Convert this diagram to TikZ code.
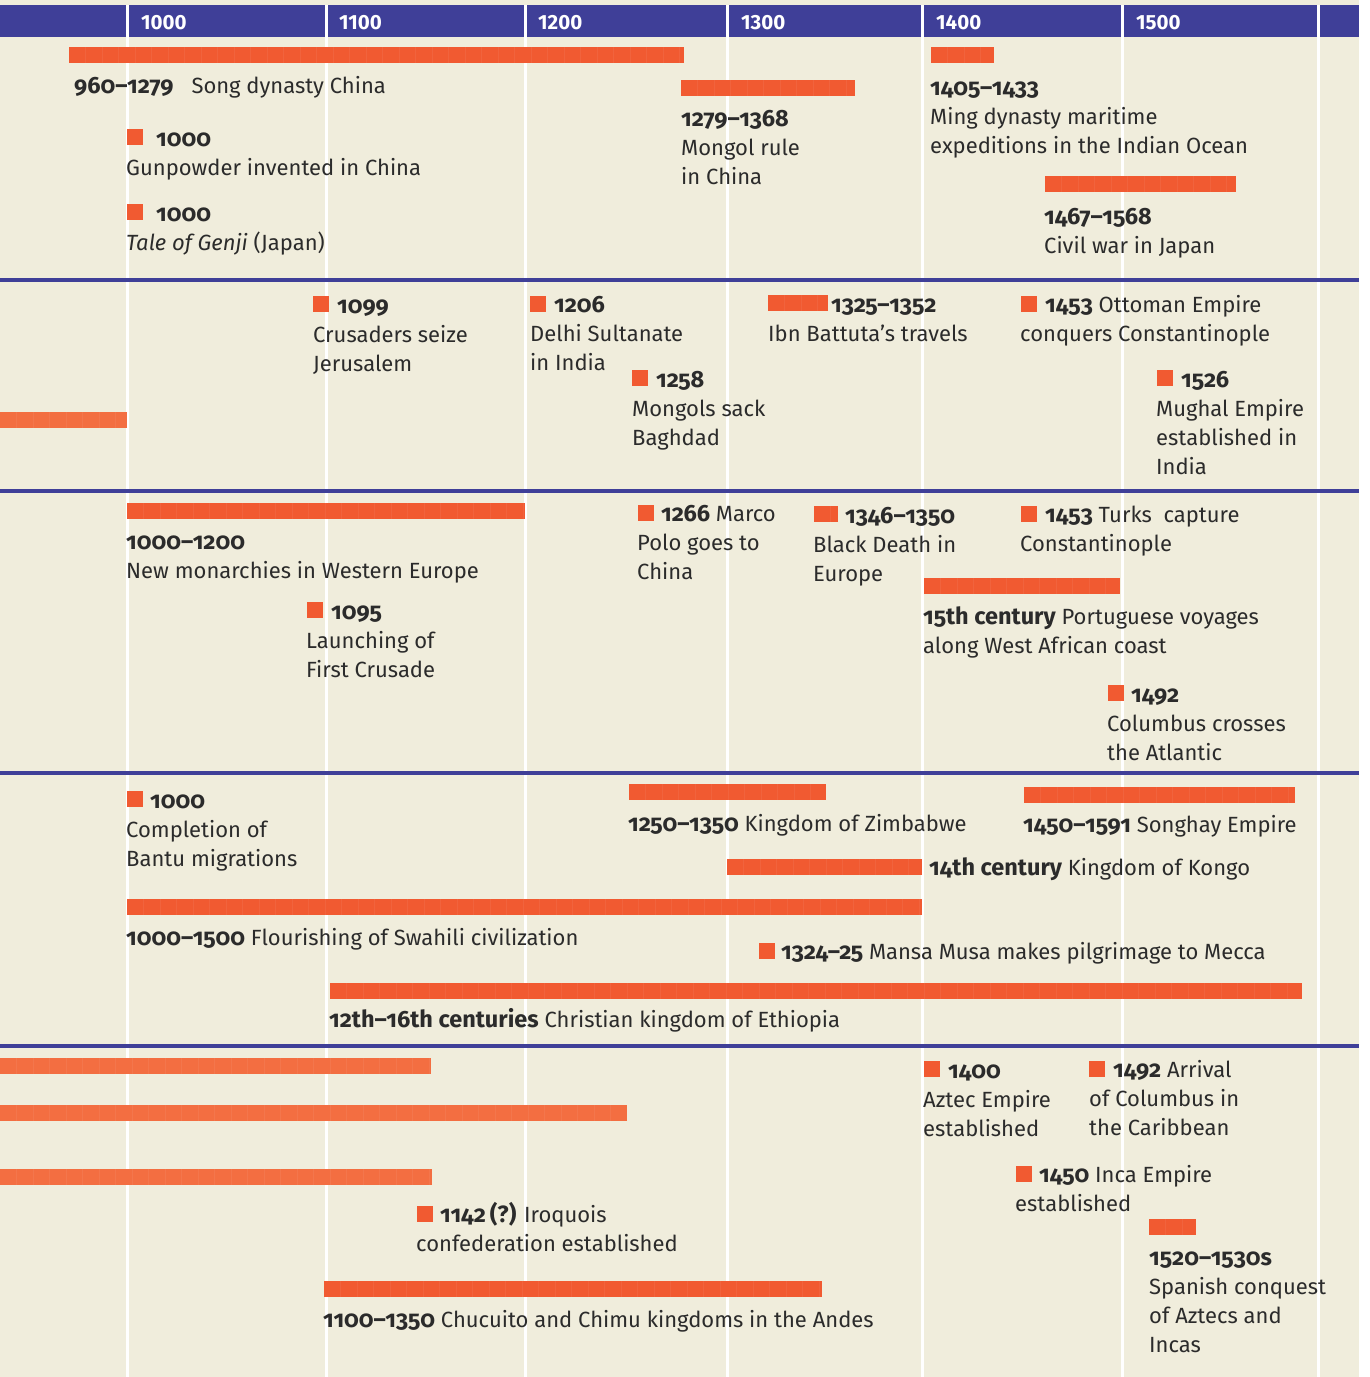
\documentclass[tikz,border=0pt]{standalone}
\usepackage{fontspec}
\setmainfont{Fira Sans}[Numbers=OldStyle]
\newfontfamily\headfont{Fira Sans}[Numbers=Lining]
\newcommand\when[1]{{\bfseries\fontsize{23.5}{29}\selectfont #1}}

\definecolor{cream}{HTML}{F0EDDC}
\definecolor{band}{HTML}{3F3F98}
\definecolor{markred}{HTML}{F15A31}
\definecolor{markpale}{HTML}{F36E41}
\definecolor{ink}{HTML}{2B2B2B}

\tikzset{
  bar/.style={fill=markred, minimum height=16pt, inner sep=0pt, anchor=north west,
    path picture={
      \foreach \i in {1,...,60}
        \draw[white, opacity=.06, line width=.6pt]
          ([xshift=\i*16.5pt]path picture bounding box.north west) --
          ([xshift=\i*16.5pt]path picture bounding box.south west);
    }},
  palebar/.style={bar, fill=markpale},
  sq/.style={fill=markred, minimum width=16pt, minimum height=16pt, inner sep=0pt, anchor=north west},
  % anchored at the baseline of the last line
  lab/.style={inner sep=0pt, anchor=base west, align=left, text=ink,
    font=\fontsize{22}{29}\selectfont},
  yearlab/.style={inner sep=0pt, anchor=base west, text=white,
    font=\headfont\bfseries\fontsize{20.5}{20.5}\selectfont},
}

\begin{document}
\begin{tikzpicture}[x=1pt, y=-1pt]
\useasboundingbox (0,0) rectangle (1369,1377);
\fill[white] (0,0) rectangle (1369,1377);
\fill[cream] (0,0) rectangle (1359,1377);

% header band and century grid
\fill[band] (0,5) rectangle (1359,37);
\foreach \x in {127,326,525,727,922,1122,1318}
  \draw[white, line width=3pt] (\x,5) -- (\x,1377);
\foreach \x/\lbl in {141/1000,339/1100,538/1200,741/1300,936/1400,1136/1500}
  \node[yearlab] (head\lbl) at (\x,29) {\lbl};

% region separators
\foreach \y in {280,491,773,1046}
  \draw[band, line width=4pt] (0,\y) -- (1359,\y);

% East Asia
\node[bar, minimum width=615pt] (song) at (69,47) {};
\node[lab] (song-t) at (74,93) {\when{960–1279}\hspace{18pt}Song dynasty China};
\node[sq] (gunpowder) at (127,129) {};
\node[lab] (gunpowder-t) at (126,175) {\hspace{30pt}\when{1000}\\Gunpowder invented in China};
\node[sq] (genji) at (127,204) {};
\node[lab] (genji-t) at (126,250) {\hspace{30pt}\when{1000}\\\textit{Tale of Genji} (Japan)};
\node[bar, minimum width=174pt] (mongol) at (681,80) {};
\node[lab] (mongol-t) at (681,184) {\when{1279–1368}\\Mongol rule\\in China};
\node[bar, minimum width=63pt] (ming) at (931,47) {};
\node[lab] (ming-t) at (930,153) {\when{1405–1433}\\Ming dynasty maritime\\expeditions in the Indian Ocean};
\node[bar, minimum width=191pt] (civilwar) at (1045,176) {};
\node[lab] (civilwar-t) at (1044,253) {\when{1467–1568}\\Civil war in Japan};

% Middle East and South Asia
\node[palebar, minimum width=127pt] (west2) at (0,412) {};
\node[sq] (crusaders) at (313,296) {};
\node[lab] (crusaders-t) at (313,371) {\hspace{24pt}\when{1099}\\Crusaders seize\\Jerusalem};
\node[sq] (delhi) at (530,296) {};
\node[lab] (delhi-t) at (530,370) {\hspace{24pt}\when{1206}\\Delhi Sultanate\\in India};
\node[sq] (baghdad) at (632,370) {};
\node[lab] (baghdad-t) at (632,445) {\hspace{24pt}\when{1258}\\Mongols sack\\Baghdad};
\node[bar, minimum width=60pt] (battuta) at (768,295) {};
\node[lab] (battuta-t) at (768,341) {\hspace{63pt}\when{1325–1352}\\Ibn Battuta’s travels};
\node[sq] (ottoman) at (1021,296) {};
\node[lab] (ottoman-t) at (1020,341) {\hspace{25pt}\when{1453} Ottoman Empire\\conquers Constantinople};
\node[sq] (mughal) at (1157,370) {};
\node[lab] (mughal-t) at (1156,474) {\hspace{25pt}\when{1526}\\Mughal Empire\\established in\\India};

% Europe
\node[bar, minimum width=398pt] (monarchies) at (127,503) {};
\node[lab] (monarchies-t) at (126,578) {\when{1000–1200}\\New monarchies in Western Europe};
\node[sq] (firstcrusade) at (307,602) {};
\node[lab] (firstcrusade-t) at (306,677) {\hspace{25pt}\when{1095}\\Launching of\\First Crusade};
\node[sq] (polo) at (638,505) {};
\node[lab] (polo-t) at (637,579) {\hspace{24pt}\when{1266} Marco\\Polo goes to\\China};
\node[bar, minimum width=24pt] (blackdeath) at (814,506) {};
\node[lab] (blackdeath-t) at (813,581) {\hspace{32pt}\when{1346–1350}\\Black Death in\\Europe};
\node[sq] (turks) at (1021,506) {};
\node[lab] (turks-t) at (1020,551) {\hspace{25pt}\when{1453} Turks\ \ capture\\Constantinople};
\node[bar, minimum width=196pt] (portugal) at (924,578) {};
\node[lab] (portugal-t) at (923,653) {\when{15th century} Portuguese voyages\\along West African coast};
\node[sq] (atlantic) at (1108,685) {};
\node[lab] (atlantic-t) at (1107,760) {\hspace{24pt}\when{1492}\\Columbus crosses\\the Atlantic};

% Africa
\node[sq] (bantu) at (127,791) {};
\node[lab] (bantu-t) at (126,866) {\hspace{24pt}\when{1000}\\Completion of\\Bantu migrations};
\node[bar, minimum width=197pt] (zimbabwe) at (629,784) {};
\node[lab] (zimbabwe-t) at (628,831) {\when{1250–1350} Kingdom of Zimbabwe};
\node[bar, minimum width=271pt] (songhay) at (1024,787) {};
\node[lab] (songhay-t) at (1023,832) {\when{1450–1591} Songhay Empire};
\node[bar, minimum width=195pt] (kongo) at (727,859) {};
\node[lab] (kongo-t) at (929,875) {\when{14th century} Kingdom of Kongo};
\node[bar, minimum width=795pt] (swahili) at (127,899) {};
\node[lab] (swahili-t) at (126,945) {\when{1000–1500} Flourishing of Swahili civilization};
\node[sq] (mansamusa) at (759,943) {};
\node[lab] (mansamusa-t) at (759,959) {\hspace{22pt}\when{1324–25} Mansa Musa makes pilgrimage to Mecca};
\node[bar, minimum width=972pt] (ethiopia) at (330,983) {};
\node[lab] (ethiopia-t) at (329,1027) {\when{12th–16th centuries} Christian kingdom of Ethiopia};

% Americas
\node[palebar, minimum width=431pt] (west5a) at (0,1058) {};
\node[palebar, minimum width=627pt] (west5b) at (0,1105) {};
\node[palebar, minimum width=432pt] (west5c) at (0,1169) {};
\node[sq] (iroquois) at (417,1206) {};
\node[lab] (iroquois-t) at (416,1251) {\hspace{24pt}\when{1142\,(?)} Iroquois\\confederation established};
\node[bar, minimum width=498pt] (andes) at (324,1281) {};
\node[lab] (andes-t) at (323,1327) {\when{1100–1350} Chucuito and Chimu kingdoms in the Andes};
\node[sq] (aztec) at (924,1061) {};
\node[lab] (aztec-t) at (923,1136) {\hspace{25pt}\when{1400}\\Aztec Empire\\established};
\node[sq] (arrival) at (1089,1061) {};
\node[lab] (arrival-t) at (1089,1135) {\hspace{24pt}\when{1492} Arrival\\of Columbus in\\the Caribbean};
\node[sq] (inca) at (1016,1166) {};
\node[lab] (inca-t) at (1015,1211) {\hspace{24pt}\when{1450} Inca Empire\\established};
\node[bar, minimum width=47pt] (spanish) at (1149,1219) {};
\node[lab] (spanish-t) at (1149,1352) {\when{1520–1530s}\\Spanish conquest\\of Aztecs and\\Incas};
\end{tikzpicture}
\end{document}
